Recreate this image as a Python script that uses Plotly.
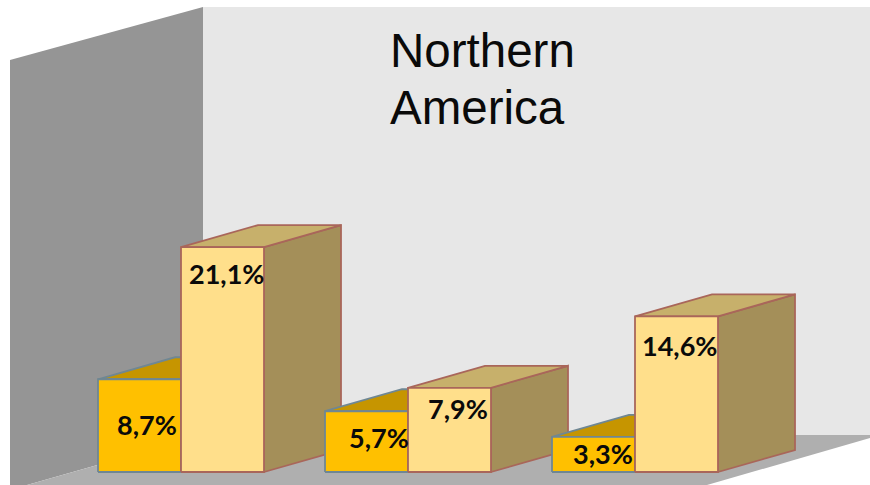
import plotly.graph_objects as go

groups = ["Group 1", "Group 2", "Group 3"]
series_a = [8.7, 5.7, 3.3]
series_b = [21.1, 7.9, 14.6]
title_lines = ["Northern", "America"]

# Page geometry (pixels)
W, H = 870, 485
GROUP_STEP = 227.0   # px per group
X0_PX = 181.0        # px of group 1 centre
BASE_PX = 472.0      # px of value 0 on front plane
PX_PER_PCT = 10.66
BAR_W = 83 / GROUP_STEP
DEPTH_X = 77 / GROUP_STEP
DEPTH_Y = 22 / PX_PER_PCT

# Label nudges in pixels (dx, dy from centre of front top edge)
shift_a = [(7, -45), (12, -26), (9, -17)]
shift_b = [(4, -26), (8, -21), (3, -29)]

def px(x, y):
    return x / W, 1 - y / H

def path(points):
    pts = [px(*p) for p in points]
    return "M " + " L ".join(f"{a:.5f},{b:.5f}" for a, b in pts) + " Z"

wall_left = [(10, 60), (203, 7), (203, 435), (27, 485), (10, 485)]
wall_back = [(203, 7), (870, 7), (870, 435), (203, 435)]
floor = [(27, 485), (203, 435), (870, 435), (870, 438), (707, 485)]

shapes = [
    dict(type="path", path=path(wall_back), xref="paper", yref="paper",
         fillcolor="#E7E7E7", line=dict(width=0), layer="below"),
    dict(type="path", path=path(wall_left), xref="paper", yref="paper",
         fillcolor="#959595", line=dict(width=0), layer="below"),
    dict(type="path", path=path(floor), xref="paper", yref="paper",
         fillcolor="#AFAFAF", line=dict(width=0), layer="below"),
]

fig = go.Figure()

def poly(xs, ys, fill, edge, name):
    fig.add_trace(go.Scatter(
        x=xs + xs[:1], y=ys + ys[:1], mode="lines", fill="toself",
        fillcolor=fill, line=dict(color=edge, width=1.8),
        showlegend=False, hoverinfo="skip", name=name))

def box(left, value, front, top, side, edge, name):
    r = left + BAR_W
    poly([r, r + DEPTH_X, r + DEPTH_X, r], [0, DEPTH_Y, value + DEPTH_Y, value], side, edge, name + " side")
    poly([left, r, r + DEPTH_X, left + DEPTH_X], [value, value, value + DEPTH_Y, value + DEPTH_Y], top, edge, name + " top")
    poly([left, r, r, left], [0, 0, value, value], front, edge, name)

for i, g in enumerate(groups):
    box(i - BAR_W, series_a[i], "#FFC000", "#C69500", "#C69500", "#6F8793", g + " a")
    box(i, series_b[i], "#FFDF8B", "#C7B06B", "#A48F59", "#A9665A", g + " b")

annotations = []
for i in range(len(groups)):
    for left, vals, shifts in ((i - BAR_W, series_a, shift_a), (i, series_b, shift_b)):
        annotations.append(dict(
            x=left + BAR_W / 2, y=vals[i], xref="x", yref="y", showarrow=False,
            xshift=shifts[i][0], yshift=shifts[i][1],
            text="<b>" + f"{vals[i]:.1f}%".replace(".", ",") + "</b>",
            font=dict(family="Lato", size=27, color="#0A0A0A"),
            xanchor="center", yanchor="middle"))

for line, y_px in zip(title_lines, (51, 107)):
    annotations.append(dict(
        x=390 / W, y=1 - y_px / H, xref="paper", yref="paper", showarrow=False,
        text=line, font=dict(family="Liberation Sans", size=47.5, color="#0A0A0A"),
        xanchor="left", yanchor="middle", xshift=-2))

fig.update_layout(
    width=W, height=H, margin=dict(l=0, r=0, t=0, b=0), autosize=False,
    paper_bgcolor="white", plot_bgcolor="rgba(0,0,0,0)",
    shapes=shapes, annotations=annotations,
    xaxis=dict(range=[-X0_PX / GROUP_STEP, (W - X0_PX) / GROUP_STEP], visible=False, fixedrange=True),
    yaxis=dict(range=[(BASE_PX - H) / PX_PER_PCT, BASE_PX / PX_PER_PCT], visible=False, fixedrange=True),
)

fig.write_html("out.html", config={"displayModeBar": False},
               post_script="document.body.style.margin='0';")
